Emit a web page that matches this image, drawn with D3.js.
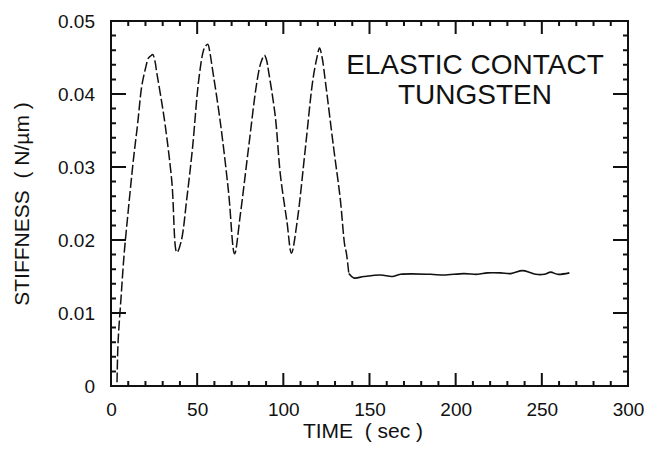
<!DOCTYPE html>
<html>
<head>
<meta charset="utf-8">
<script src="https://cdn.jsdelivr.net/npm/d3@7"></script>
<style>
  body { margin: 0; background: #fff; }
  svg text { font-family: "Liberation Sans", Arial, sans-serif; fill: #111; }
</style>
</head>
<body>
<div id="chart"></div>
<script>
// oscillating part (drawn dashed)
const time1 = [3.5, 4.1, 5.8, 7.6, 10, 13, 15.5, 17.8, 20, 21.7, 23, 24.2, 25.5, 26.5, 29, 31.4, 35.3, 38.2,
  40.7, 44, 47.3, 50.8, 53.7, 55, 56.2, 57.3, 58.5, 63.4, 68.2, 71.7,
  75, 79.8, 84.7, 87, 89, 90.2, 91.5, 95.3, 98.3, 102.1, 104.7,
  108, 112.8, 117, 119.5, 121, 122.5, 124.4, 129.2, 133, 135.6, 136.6, 138];
const stiff1 = [0.0005, 0.006, 0.012, 0.018, 0.024, 0.031, 0.036, 0.041, 0.0435, 0.0449, 0.0452, 0.0454, 0.0445, 0.043, 0.0395, 0.0358, 0.028, 0.0183,
  0.0198, 0.0257, 0.0326, 0.0417, 0.046, 0.0466, 0.0468, 0.0458, 0.044, 0.0362, 0.0266, 0.0181,
  0.0234, 0.0326, 0.0417, 0.0443, 0.0453, 0.0447, 0.043, 0.037, 0.0289, 0.0225, 0.0182,
  0.0225, 0.0326, 0.0417, 0.045, 0.0463, 0.045, 0.0417, 0.0326, 0.0257, 0.0193, 0.0182, 0.0154];

// flat part after contact (solid)
const time2 = [138, 140.9, 146.7, 156.4, 163.2, 168, 185.5, 193.2, 204.8, 212.6, 218.4, 226, 232, 238.8, 243.6, 246.5, 251.4, 255.2, 259, 266];
const stiff2 = [0.0154, 0.0148, 0.015, 0.0152, 0.015, 0.0153, 0.0153, 0.0152, 0.0154, 0.0153, 0.0155, 0.0155, 0.0154, 0.0158, 0.0155, 0.0153, 0.0153, 0.0156, 0.0153, 0.0155];

const xTicks = [0, 50, 100, 150, 200, 250, 300];
const yTicks = [0, 0.01, 0.02, 0.03, 0.04, 0.05];
const xMinor = [10, 20, 30, 40, 60, 70, 80, 90, 110, 120, 130, 140, 160, 170, 180, 190, 210, 220, 230, 240, 260, 270, 280, 290];
const yMinor = [0.002, 0.004, 0.006, 0.008, 0.012, 0.014, 0.016, 0.018, 0.022, 0.024, 0.026, 0.028,
  0.032, 0.034, 0.036, 0.038, 0.042, 0.044, 0.046, 0.048];

const width = 649, height = 453;
const svg = d3.select("#chart").append("svg")
    .attr("width", width)
    .attr("height", height);

const x = d3.scaleLinear().domain([0, 300]).range([111, 628]);
const y = d3.scaleLinear().domain([0, 0.05]).range([386, 21]);

const x0 = x(0), x1 = x(300), y0 = y(0), y1 = y(0.05);

// tick labels through the axes
svg.append("g")
    .attr("transform", `translate(0, ${y0})`)
    .call(d3.axisBottom(x).tickValues(xTicks).tickSize(0).tickPadding(17).tickFormat(d3.format("d")))
    .call(g => g.select(".domain").remove())
    .call(g => g.selectAll("text").style("font-size", "19px"));

svg.append("g")
    .attr("transform", `translate(${x0}, 0)`)
    .call(d3.axisLeft(y).tickValues(yTicks).tickSize(0).tickPadding(16).tickFormat(d => d === 0 ? "0" : d3.format(".2f")(d)))
    .call(g => g.select(".domain").remove())
    .call(g => g.selectAll("text").style("font-size", "19px"));

// inward tick marks on all four sides, as one path
let tickPath = "";
function xTick(v, len) {
    tickPath += `M${x(v)},${y0}V${y0 - len}M${x(v)},${y1}V${y1 + len}`;
}
function yTick(v, len) {
    tickPath += `M${x0},${y(v)}H${x0 + len}M${x1},${y(v)}H${x1 - len}`;
}
xTicks.forEach(v => xTick(v, 13));
xMinor.forEach(v => xTick(v, 5));
yTicks.forEach(v => yTick(v, 15));
yMinor.forEach(v => yTick(v, 5));

svg.append("path")
    .attr("d", tickPath)
    .attr("fill", "none")
    .attr("stroke", "#111")
    .attr("stroke-width", 2);

// frame
svg.append("rect")
    .attr("x", x0)
    .attr("y", y1)
    .attr("width", x1 - x0)
    .attr("height", y0 - y1)
    .attr("fill", "none")
    .attr("stroke", "#111")
    .attr("stroke-width", 2);

const line = d3.line()
    .x(d => x(d[0]))
    .y(d => y(d[1]))
    .curve(d3.curveCatmullRom.alpha(0.5));

svg.append("path")
    .datum(time1.map((t, i) => [t, stiff1[i]]))
    .attr("d", line)
    .attr("fill", "none")
    .attr("stroke", "#111")
    .attr("stroke-width", 1.5)
    .attr("stroke-dasharray", "10,3");

svg.append("path")
    .datum(time2.map((t, i) => [t, stiff2[i]]))
    .attr("d", line)
    .attr("fill", "none")
    .attr("stroke", "#111")
    .attr("stroke-width", 1.6);

// labels
svg.append("text")
    .attr("x", 475).attr("y", 74)
    .attr("text-anchor", "middle")
    .style("font-size", "28px")
    .text("ELASTIC CONTACT");
svg.append("text")
    .attr("x", 475).attr("y", 104)
    .attr("text-anchor", "middle")
    .style("font-size", "28px")
    .text("TUNGSTEN");

svg.append("text")
    .attr("x", 363).attr("y", 438)
    .attr("text-anchor", "middle")
    .style("font-size", "21px")
    .style("white-space", "pre")
    .attr("xml:space", "preserve")
    .text("TIME  ( sec )");

svg.append("text")
    .attr("transform", "translate(29, 204) rotate(-90)")
    .attr("text-anchor", "middle")
    .style("font-size", "21px")
    .style("white-space", "pre")
    .attr("xml:space", "preserve")
    .text("STIFFNESS  ( N/\u00b5m )");
</script>
</body>
</html>
